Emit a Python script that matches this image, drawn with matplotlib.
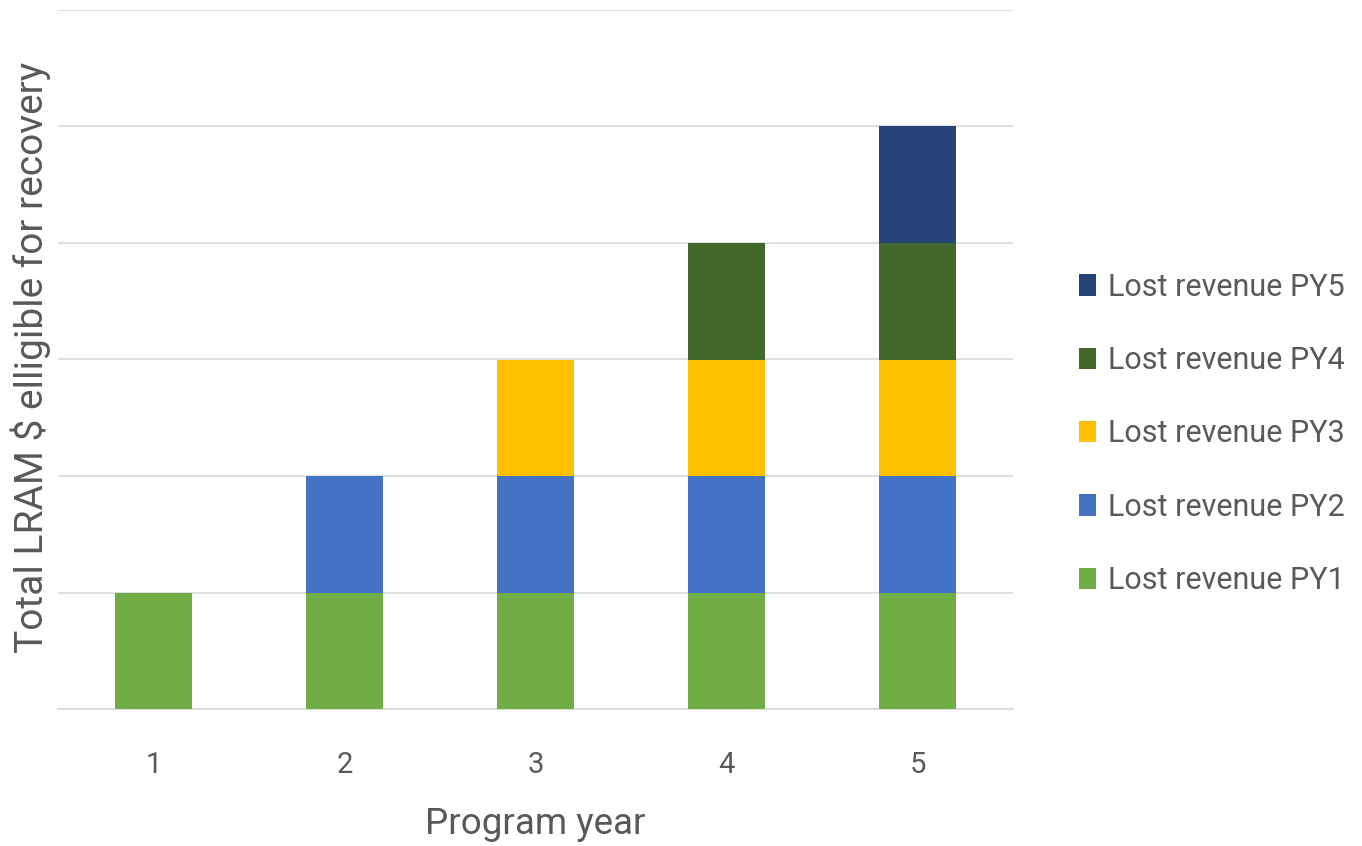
import matplotlib
matplotlib.use("Agg")
import matplotlib.pyplot as plt
import numpy as np

plt.rcParams['font.family'] = ['Roboto', 'DejaVu Sans']

years = ["1", "2", "3", "4", "5"]
series_names = ["Lost revenue PY1", "Lost revenue PY2", "Lost revenue PY3",
                "Lost revenue PY4", "Lost revenue PY5"]
py1 = [1, 1, 1, 1, 1]
py2 = [0, 1, 1, 1, 1]
py3 = [0, 0, 1, 1, 1]
py4 = [0, 0, 0, 1, 1]
py5 = [0, 0, 0, 0, 1]
series_values = [py1, py2, py3, py4, py5]
colors = ["#70AD47", "#4472C4", "#FFC000", "#43682B", "#264478"]

text_color = "#595959"
grid_color = "#D9D9D9"

fig = plt.figure(figsize=(13.62, 8.46), dpi=100)
ax = fig.add_axes([58/1362, 1 - 709/846, (1013-58)/1362, (709-10)/846])

x = np.arange(len(years))
bottom = np.zeros(len(years))
handles = []
for name, vals, c in zip(series_names, series_values, colors):
    vals = np.array(vals, dtype=float)
    h = ax.bar(x, vals, bottom=bottom, width=0.4, color=c, label=name, zorder=3)
    handles.append(h)
    bottom += vals

ax.set_xlim(-0.5, len(years) - 0.5)
ax.set_ylim(0, 6)
ax.set_yticks(np.arange(0, 7, 1))
ax.set_yticklabels([])
ax.tick_params(axis='y', length=0)
ax.grid(axis='y', color=grid_color, linewidth=1.2, zorder=0)
ax.set_xticks(x)
ax.set_xticklabels(years, fontsize=21, color=text_color)
ax.tick_params(axis='x', length=0, pad=30)
for s in ['top', 'right', 'left']:
    ax.spines[s].set_visible(False)
ax.spines['bottom'].set_color(grid_color)
ax.spines['bottom'].set_linewidth(1.2)

ax.set_xlabel("Program year", fontsize=26.5, color=text_color, labelpad=20)
fig.text(31/1362, 1 - 357/846, "Total LRAM $ elligible for recovery", rotation=90,
         fontsize=28, color=text_color, ha='center', va='center')

leg = fig.legend(handles[::-1], series_names[::-1], loc='center left',
                 bbox_to_anchor=(1079/1362, 1 - 434/846), frameon=False,
                 borderpad=0, borderaxespad=0,
                 fontsize=22, labelcolor=text_color, handlelength=0.55,
                 handleheight=0.7, handletextpad=0.4, labelspacing=1.45)

fig.savefig("out.png", dpi=100)
